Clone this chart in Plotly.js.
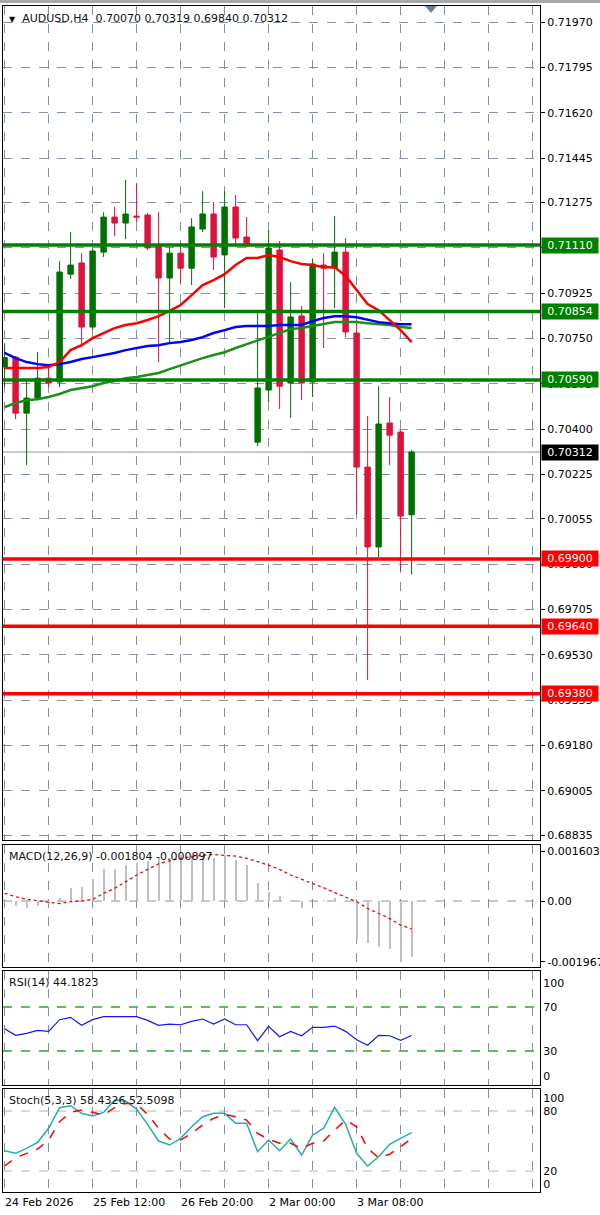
<!DOCTYPE html>
<html>
<head>
<meta charset="utf-8">
<script src="https://cdn.plot.ly/plotly-3.0.1.min.js"></script>
<style>html,body{margin:0;padding:0;background:#fff;}#chart{width:600px;height:1215px;}</style>
</head>
<body>
<div id="chart"></div>
<script>
// ---- data (AUDUSD H4) ----
const symbolTitle = "AUDUSD,H4  0.70070 0.70319 0.69840 0.70312";
const openP  = [0.70640,0.70678,0.70462,0.70520,0.70597,0.70582,0.70998,0.71041,0.70794,0.71083,0.71218,0.71195,0.71222,0.71226,0.71106,0.70983,0.71079,0.71021,0.71172,0.71230,0.71072,0.71257,0.71141,0.70350,0.70551,0.71091,0.70578,0.70837,0.70582,0.71033,0.71021,0.71083,0.70771,0.70254,0.69946,0.70424,0.70389,0.70070];
const highP  = [0.70732,0.70682,0.70590,0.70698,0.70640,0.71048,0.71160,0.71079,0.71095,0.71237,0.71257,0.71361,0.71349,0.71234,0.71237,0.71102,0.71118,0.71214,0.71318,0.71276,0.71318,0.71303,0.71218,0.70852,0.71168,0.71126,0.70967,0.70875,0.71056,0.71079,0.71222,0.71137,0.70821,0.70451,0.70566,0.70524,0.70397,0.70319];
const lowP   = [0.70563,0.70439,0.70262,0.70512,0.70563,0.70563,0.70979,0.70717,0.70782,0.71064,0.71145,0.71133,0.71199,0.71091,0.70659,0.70732,0.70964,0.70956,0.71160,0.71014,0.70867,0.71102,0.71102,0.70335,0.70505,0.70478,0.70443,0.70512,0.70524,0.70713,0.70867,0.70755,0.70073,0.69433,0.69907,0.70262,0.69853,0.69840];
const closeP = [0.70676,0.70462,0.70520,0.70597,0.70578,0.71006,0.71033,0.70794,0.71087,0.71218,0.71195,0.71230,0.71218,0.71099,0.70983,0.71079,0.71021,0.71180,0.71230,0.71064,0.71257,0.71137,0.71114,0.70559,0.71099,0.70566,0.70833,0.70578,0.71037,0.71021,0.71083,0.70775,0.70254,0.69946,0.70420,0.70377,0.70065,0.70312];
const maRed   = [0.70636,0.70636,0.70636,0.70636,0.70640,0.70659,0.70705,0.70724,0.70751,0.70771,0.70790,0.70802,0.70809,0.70821,0.70836,0.70856,0.70879,0.70917,0.70956,0.70975,0.70998,0.71033,0.71060,0.71060,0.71072,0.71064,0.71048,0.71037,0.71033,0.71025,0.71025,0.70991,0.70937,0.70883,0.70859,0.70821,0.70782,0.70736];
const maBlue  = [0.70694,0.70674,0.70659,0.70651,0.70647,0.70651,0.70659,0.70671,0.70678,0.70686,0.70694,0.70705,0.70713,0.70721,0.70724,0.70732,0.70736,0.70744,0.70755,0.70771,0.70782,0.70794,0.70798,0.70798,0.70798,0.70802,0.70802,0.70802,0.70817,0.70829,0.70836,0.70836,0.70832,0.70821,0.70813,0.70809,0.70805,0.70805];
const maGreen = [0.70485,0.70501,0.70512,0.70516,0.70524,0.70536,0.70551,0.70559,0.70566,0.70578,0.70586,0.70597,0.70601,0.70609,0.70617,0.70632,0.70647,0.70659,0.70674,0.70686,0.70697,0.70713,0.70728,0.70744,0.70759,0.70771,0.70786,0.70790,0.70798,0.70805,0.70813,0.70813,0.70813,0.70809,0.70805,0.70802,0.70794,0.70790];
const resistLevels = [0.71110, 0.70854, 0.70590];
const supportLevels = [0.69900, 0.69640, 0.69380];
const lastPrice = 0.70312;
const priceTicks = [0.71970,0.71795,0.71620,0.71445,0.71275,0.71100,0.70925,0.70750,0.70575,0.70400,0.70225,0.70055,0.69880,0.69705,0.69530,0.69355,0.69180,0.69005,0.68835];

const macdTitle = "MACD(12,26,9) -0.001804 -0.000897";
const macdMain = [-0.00002,-0.00015,-0.00024,-0.00016,-0.00008,0.00009,0.00041,0.00046,0.00070,0.00102,0.00102,0.00116,0.00124,0.00130,0.00138,0.00138,0.00149,0.00149,0.00149,0.00138,0.00149,0.00132,0.00116,0.00059,0.00030,0.00016,0.00002,-0.00024,0.00001,0.00003,0.00009,-0.00001,-0.00126,-0.00135,-0.00148,-0.00156,-0.00196,-0.001804];
const macdSignal = [0.00025,0.00014,0.00006,0.00000,-0.00004,-0.00008,-0.00002,0.00000,0.00005,0.00025,0.00041,0.00062,0.00084,0.00102,0.00120,0.00130,0.00138,0.00143,0.00148,0.00150,0.00148,0.00145,0.00138,0.00127,0.00116,0.00102,0.00084,0.00070,0.00057,0.00043,0.00027,0.00012,-0.00002,-0.00024,-0.00040,-0.00056,-0.00078,-0.000897];
const macdTicks = [0.001603, 0, -0.001967];
const macdTickText = ["0.001603", "0.00", "-0.001967"];

const rsiTitle = "RSI(14) 44.1823";
const rsiVals = [50.3,44.3,46.1,48.8,47.9,58.5,60.6,53.4,58.5,61.2,61.2,61.2,61.2,57.9,53.4,54.5,53.9,57.0,59.1,54.5,59.1,53.9,53.9,39.4,52.4,43.0,47.9,43.9,51.5,51.5,52.7,47.9,40.3,35.2,44.3,43.9,39.7,44.1823];
const rsiLevels = [70, 30];

const stochTitle = "Stoch(5,3,3) 58.4326 52.5098";
const stochMain = [40.3,37.7,42.7,48.7,62.7,83.3,85.3,77.7,75.0,78.7,91.0,90.0,82.0,66.7,50.0,46.0,52.7,64.3,74.3,77.7,77.7,67.7,67.7,39.3,51.0,40.3,52.0,36.0,56.0,62.7,83.7,66.7,37.7,25.0,34.3,46.7,52.7,58.4326];
const stochSignal = [25.0,33.3,37.7,42.0,51.0,69.3,78.7,81.0,78.7,76.0,83.3,87.7,87.0,76.7,62.7,52.0,51.0,57.7,66.0,72.7,76.7,74.3,71.0,57.7,51.7,47.7,47.7,42.7,47.7,50.0,61.0,71.0,64.3,42.7,33.3,36.7,44.3,52.5098];
const stochLevels = [80, 20];

const timeLabels = ["24 Feb 2026", "25 Feb 12:00", "26 Feb 20:00", "2 Mar 00:00", "3 Mar 08:00"];
const timeLabelBars = [0, 8, 16, 24, 32];

// ---- build ----
const FONT = "DejaVu Sans";
const GRID = "#8592a3";
const idx = openP.map((_, i) => i);
const xRange = [-0.145, 48.67];
const gridVals = []; const gridText = [];
for (let v = 0; v <= 48; v += 4) {
  gridVals.push(v);
  const k = timeLabelBars.indexOf(v);
  gridText.push(k >= 0 ? timeLabels[k] : "");
}

const traces = [
  {type: "candlestick", x: idx, open: openP, high: highP, low: lowP, close: closeP,
   xaxis: "x", yaxis: "y", whiskerwidth: 0,
   increasing: {line: {color: "#007000", width: 1}, fillcolor: "#007000"},
   decreasing: {line: {color: "#dc143c", width: 1}, fillcolor: "#dc143c"},
   hoverinfo: "skip"},
  {type: "scatter", mode: "lines", x: idx, y: maGreen, xaxis: "x", yaxis: "y", line: {color: "#1a8f1a", width: 2.5}},
  {type: "scatter", mode: "lines", x: idx, y: maBlue, xaxis: "x", yaxis: "y", line: {color: "#0000ff", width: 2.5}},
  {type: "scatter", mode: "lines", x: idx, y: maRed, xaxis: "x", yaxis: "y", line: {color: "#ff0000", width: 2.5}},
  {type: "bar", x: idx, y: macdMain, xaxis: "x2", yaxis: "y2", width: 0.17, marker: {color: "#c0c0c0", line: {width: 0}}},
  {type: "scatter", mode: "lines", x: idx, y: macdSignal, xaxis: "x2", yaxis: "y2", line: {color: "#ff0000", width: 1.3, dash: "dot"}},
  {type: "scatter", mode: "lines", x: idx, y: rsiVals, xaxis: "x3", yaxis: "y3", line: {color: "#1414ff", width: 1.2}},
  {type: "scatter", mode: "lines", x: idx, y: stochMain, xaxis: "x4", yaxis: "y4", line: {color: "#20b2aa", width: 1.5}},
  {type: "scatter", mode: "lines", x: idx, y: stochSignal, xaxis: "x4", yaxis: "y4", line: {color: "#ff0000", width: 1.5, dash: "dash"}}
];

function xAxis(anchor, labels) {
  return {
    anchor: anchor, domain: [0, 1], range: xRange, fixedrange: true,
    tickmode: "array", tickvals: gridVals, ticktext: labels ? gridText : gridVals.map(() => ""),
    showticklabels: !!labels, ticks: "", ticklabelposition: labels ? "outside right" : "outside",
    tickfont: {family: FONT, size: 11, color: "#000"},
    showgrid: true, gridcolor: GRID, griddash: "dash", gridwidth: 1,
    showline: true, mirror: true, linecolor: "#000", linewidth: 1, zeroline: false,
    rangeslider: {visible: false}
  };
}
function yAxis(anchor, domain, range, extra) {
  return Object.assign({
    anchor: anchor, domain: domain, range: range, side: "right", fixedrange: true,
    tickfont: {family: FONT, size: 11, color: "#000"}, ticks: "outside", ticklen: 4, tickcolor: "#000",
    showline: true, mirror: true, linecolor: "#000", linewidth: 1, zeroline: false, showgrid: false
  }, extra || {});
}

const shapes = [];
// top window strip and chart-shift marker
shapes.push({type: "rect", xref: "paper", yref: "paper", x0: -0.01, x1: 1.2, y0: 1.0025, y1: 1.006, fillcolor: "#a8a8a8", line: {width: 0}, layer: "below"});
shapes.push({type: "path", xref: "paper", yref: "paper", path: "M 0.786 1 L 0.808 1 L 0.797 0.9942 Z", fillcolor: "#6f8091", line: {width: 0}});
// last price line
shapes.push({type: "line", xref: "paper", x0: 0, x1: 1, yref: "y", y0: lastPrice, y1: lastPrice, line: {color: "#8795a6", width: 1}, layer: "below"});
resistLevels.forEach(v => shapes.push({type: "line", xref: "paper", x0: 0, x1: 1, yref: "y", y0: v, y1: v, line: {color: "#008000", width: 3.5}}));
supportLevels.forEach(v => shapes.push({type: "line", xref: "paper", x0: 0, x1: 1, yref: "y", y0: v, y1: v, line: {color: "#ff0000", width: 3.5}}));
shapes.push({type: "line", xref: "paper", x0: 0, x1: 1, yref: "y2", y0: 0, y1: 0, line: {color: GRID, width: 1, dash: "dash"}, layer: "below"});
rsiLevels.forEach(v => shapes.push({type: "line", xref: "paper", x0: 0, x1: 1, yref: "y3", y0: v, y1: v, line: {color: "#33a133", width: 1.5, dash: "dash"}, layer: "below"}));
stochLevels.forEach(v => shapes.push({type: "line", xref: "paper", x0: 0, x1: 1, yref: "y4", y0: v, y1: v, line: {color: "#b4b4b4", width: 1, dash: "dash"}, layer: "below"}));

const annotations = [];
function panelLabel(text, yref) {
  annotations.push({text: text, xref: "paper", x: 0, xanchor: "left", xshift: 4, yref: yref + " domain", y: 1, yanchor: "top", yshift: -3,
    showarrow: false, font: {family: FONT, size: 11, color: "#111"}});
}
annotations.push({text: '<span style="font-size:8px">▼</span>  ' + symbolTitle, xref: "paper", x: 0, xanchor: "left", xshift: 4,
  yref: "y domain", y: 1, yanchor: "top", yshift: -4, showarrow: false, font: {family: FONT, size: 11, color: "#111"}});
panelLabel(macdTitle, "y2");
panelLabel(rsiTitle, "y3");
panelLabel(stochTitle, "y4");
function priceBox(v, bg) {
  annotations.push({text: v.toFixed(5), xref: "paper", x: 1, xanchor: "left", xshift: 1, yref: "y", y: v, yanchor: "middle",
    showarrow: false, bgcolor: bg, borderpad: 1, width: 54, align: "center", font: {family: FONT, size: 11, color: "#fff"}});
}
resistLevels.forEach(v => priceBox(v, "#008000"));
supportLevels.forEach(v => priceBox(v, "#ff0000"));
priceBox(lastPrice, "#000000");

const layout = {
  width: 600, height: 1215, margin: {l: 3, r: 60, t: 6, b: 23},
  paper_bgcolor: "#fff", plot_bgcolor: "#fff", showlegend: false, hovermode: false,
  font: {family: FONT, size: 11, color: "#000"},
  xaxis: xAxis("y", false), xaxis2: xAxis("y2", false), xaxis3: xAxis("y3", false), xaxis4: xAxis("y4", true),
  yaxis: yAxis("x", [0.2968, 1], [0.68816, 0.72032], {tickmode: "array", tickvals: priceTicks, tickformat: ".5f",
    showgrid: true, gridcolor: GRID, griddash: "dash", gridwidth: 1}),
  yaxis2: yAxis("x2", [0.1897, 0.2926], [-0.00213, 0.00181], {tickmode: "array", tickvals: macdTicks, ticktext: macdTickText}),
  yaxis3: yAxis("x3", [0.0902, 0.1863], [-0.9, 102.7], {tickmode: "array", tickvals: [91.8, 70, 30, 7.3], ticktext: ["100", "70", "30", "0"], ticks: ""}),
  yaxis4: yAxis("x4", [0, 0.0868], [-1, 102], {tickmode: "array", tickvals: [93, 80, 20, 7], ticktext: ["100", "80", "20", "0"], ticks: ""}),
  bargap: 0, shapes: shapes, annotations: annotations
};

Plotly.newPlot("chart", traces, layout, {staticPlot: true, displayModeBar: false});
</script>
</body>
</html>
